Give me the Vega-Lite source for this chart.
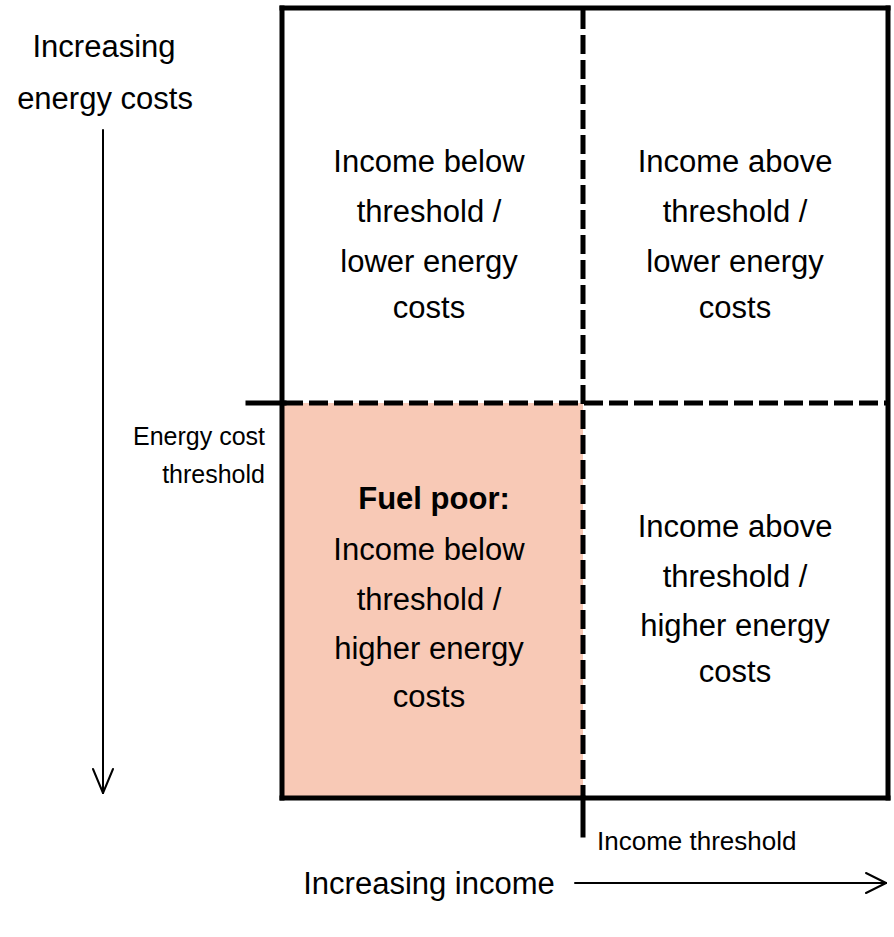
{
  "$schema": "https://vega.github.io/schema/vega-lite/v6.json",
  "width": 894,
  "height": 937,
  "autosize": {"type": "none"},
  "padding": 0,
  "background": "white",
  "config": {"view": {"stroke": null}},
  "datasets": {
    "fill": [{"x": 282, "x2": 583, "y": 403, "y2": 798}],
    "solid": [
      {"x": 282, "y": 8, "x2": 888, "y2": 8},
      {"x": 282, "y": 8, "x2": 282, "y2": 798},
      {"x": 888, "y": 8, "x2": 888, "y2": 798},
      {"x": 282, "y": 798, "x2": 888, "y2": 798},
      {"x": 248, "y": 403, "x2": 284, "y2": 403},
      {"x": 583, "y": 798, "x2": 583, "y2": 835}
    ],
    "dashed": [
      {"x": 583, "y": 10, "x2": 583, "y2": 798},
      {"x": 284, "y": 403, "x2": 886, "y2": 403}
    ],
    "arrows": [
      {"x": 103, "y": 130, "x2": 103, "y2": 793},
      {"x": 93, "y": 769, "x2": 103, "y2": 793},
      {"x": 113, "y": 769, "x2": 103, "y2": 793},
      {"x": 575, "y": 883, "x2": 886, "y2": 883},
      {"x": 866, "y": 873, "x2": 886, "y2": 883},
      {"x": 866, "y": 893, "x2": 886, "y2": 883}
    ],
    "quad": [
      {"x": 429, "y": 163, "t": "Income below"},
      {"x": 429, "y": 213, "t": "threshold /"},
      {"x": 429, "y": 263, "t": "lower energy"},
      {"x": 429, "y": 309, "t": "costs"},
      {"x": 735, "y": 163, "t": "Income above"},
      {"x": 735, "y": 213, "t": "threshold /"},
      {"x": 735, "y": 263, "t": "lower energy"},
      {"x": 735, "y": 309, "t": "costs"},
      {"x": 429, "y": 551, "t": "Income below"},
      {"x": 429, "y": 601, "t": "threshold /"},
      {"x": 429, "y": 650, "t": "higher energy"},
      {"x": 429, "y": 698, "t": "costs"},
      {"x": 735, "y": 528, "t": "Income above"},
      {"x": 735, "y": 578, "t": "threshold /"},
      {"x": 735, "y": 627, "t": "higher energy"},
      {"x": 735, "y": 673, "t": "costs"},
      {"x": 104, "y": 48, "t": "Increasing"},
      {"x": 105, "y": 100, "t": "energy costs"},
      {"x": 429, "y": 885, "t": "Increasing income"}
    ],
    "bold": [{"x": 434, "y": 500, "t": "Fuel poor:"}],
    "rightlab": [
      {"x": 265, "y": 437, "t": "Energy cost"},
      {"x": 265, "y": 475, "t": "threshold"}
    ],
    "leftlab": [{"x": 597, "y": 842, "t": "Income threshold"}]
  },
  "layer": [
    {
      "data": {"name": "fill"},
      "mark": {"type": "rect", "color": "#F8C9B6"},
      "encoding": {
        "x": {"field": "x", "type": "quantitative", "scale": {"domain": [0, 894], "nice": false, "zero": false}, "axis": null},
        "x2": {"field": "x2"},
        "y": {"field": "y", "type": "quantitative", "scale": {"domain": [0, 937], "reverse": true, "nice": false, "zero": false}, "axis": null},
        "y2": {"field": "y2"}
      }
    },
    {
      "data": {"name": "solid"},
      "mark": {"type": "rule", "color": "black", "strokeWidth": 5, "strokeCap": "square"},
      "encoding": {
        "x": {"field": "x", "type": "quantitative"},
        "x2": {"field": "x2"},
        "y": {"field": "y", "type": "quantitative"},
        "y2": {"field": "y2"}
      }
    },
    {
      "data": {"name": "dashed"},
      "mark": {"type": "rule", "color": "black", "strokeWidth": 5, "strokeDash": [19, 6]},
      "encoding": {
        "x": {"field": "x", "type": "quantitative"},
        "x2": {"field": "x2"},
        "y": {"field": "y", "type": "quantitative"},
        "y2": {"field": "y2"}
      }
    },
    {
      "data": {"name": "arrows"},
      "mark": {"type": "rule", "color": "black", "strokeWidth": 2, "strokeCap": "round"},
      "encoding": {
        "x": {"field": "x", "type": "quantitative"},
        "x2": {"field": "x2"},
        "y": {"field": "y", "type": "quantitative"},
        "y2": {"field": "y2"}
      }
    },
    {
      "data": {"name": "quad"},
      "mark": {"type": "text", "font": "Liberation Sans", "fontSize": 31, "color": "black", "align": "center", "baseline": "middle"},
      "encoding": {
        "x": {"field": "x", "type": "quantitative"},
        "y": {"field": "y", "type": "quantitative"},
        "text": {"field": "t"}
      }
    },
    {
      "data": {"name": "bold"},
      "mark": {"type": "text", "font": "Liberation Sans", "fontSize": 31, "fontWeight": "bold", "color": "black", "align": "center", "baseline": "middle"},
      "encoding": {
        "x": {"field": "x", "type": "quantitative"},
        "y": {"field": "y", "type": "quantitative"},
        "text": {"field": "t"}
      }
    },
    {
      "data": {"name": "rightlab"},
      "mark": {"type": "text", "font": "Liberation Sans", "fontSize": 25, "color": "black", "align": "right", "baseline": "middle"},
      "encoding": {
        "x": {"field": "x", "type": "quantitative"},
        "y": {"field": "y", "type": "quantitative"},
        "text": {"field": "t"}
      }
    },
    {
      "data": {"name": "leftlab"},
      "mark": {"type": "text", "font": "Liberation Sans", "fontSize": 26, "color": "black", "align": "left", "baseline": "middle"},
      "encoding": {
        "x": {"field": "x", "type": "quantitative"},
        "y": {"field": "y", "type": "quantitative"},
        "text": {"field": "t"}
      }
    }
  ]
}
